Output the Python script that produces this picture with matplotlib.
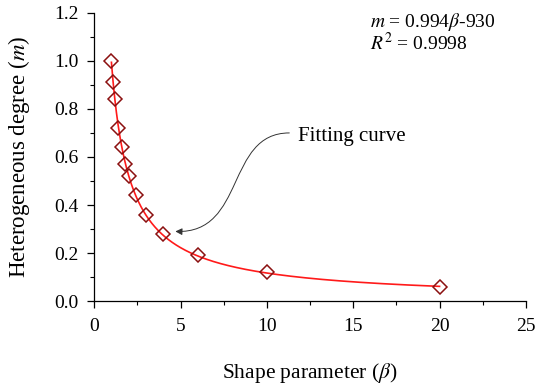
import numpy as np
import matplotlib
matplotlib.use("Agg")
import matplotlib.pyplot as plt
from matplotlib.patches import FancyArrowPatch
from matplotlib.path import Path
from matplotlib.ticker import MultipleLocator, FormatStrFormatter

plt.rcParams['font.family'] = ['Liberation Serif', 'DejaVu Serif']
plt.rcParams['mathtext.fontset'] = 'stix'

# measured points
beta = [1.0, 1.1, 1.2, 1.4, 1.6, 1.8, 2.0, 2.4, 3.0, 4.0, 6.0, 10.0, 20.0]
m = [1.00, 0.91, 0.84, 0.72, 0.64, 0.57, 0.52, 0.44, 0.36, 0.28, 0.19, 0.12, 0.06]

# fit given on the chart: m = a * beta^b
fit_a = 0.994
fit_b = -0.930

fig = plt.figure(figsize=(5.35, 3.89), dpi=100)
ax = fig.add_axes([0.176, 0.226, 0.807, 0.741])

bx = np.linspace(min(beta), max(beta), 400)
ax.plot(bx, fit_a * bx ** fit_b, color='#ff1a1a', lw=1.2, zorder=2)
ax.plot(beta, m, linestyle='none', marker='D', markersize=7,
        markerfacecolor='none', markeredgecolor='#8b1010', markeredgewidth=1.1, zorder=3)

ax.set_xlim(0, 25)
ax.set_ylim(0, 1.2)
ax.xaxis.set_major_locator(MultipleLocator(5))
ax.xaxis.set_minor_locator(MultipleLocator(2.5))
ax.yaxis.set_major_locator(MultipleLocator(0.2))
ax.yaxis.set_minor_locator(MultipleLocator(0.1))
ax.yaxis.set_major_formatter(FormatStrFormatter('%.1f'))
ax.spines['top'].set_visible(False)
ax.spines['right'].set_visible(False)
for s in ['left', 'bottom']:
    ax.spines[s].set_linewidth(0.9)
ax.tick_params(which='major', direction='out', length=5, width=0.9, labelsize=14)
ax.tick_params(which='minor', direction='out', length=3, width=0.8)
ax.tick_params(axis='x', pad=7)
ax.tick_params(axis='y', pad=6)

ax.set_xlabel(r'Shape parameter ($\beta$)', fontsize=15.5, labelpad=19)
ax.set_ylabel(r'Heterogeneous degree ($m$)', fontsize=16.5, labelpad=16)

ax.text(0.639, 0.951, r'$m$ = 0.994$\beta$-930', transform=ax.transAxes,
        fontsize=14, va='baseline', ha='left')
ax.text(0.639, 0.872, r'$R^2$ = 0.9998', transform=ax.transAxes,
        fontsize=14, va='baseline', ha='left')

ax.text(11.8, 0.668, 'Fitting curve', fontsize=15, va='baseline', ha='left')
verts = [(11.3, 0.70), (7.6, 0.70), (8.8, 0.28), (4.7, 0.29)]
codes = [Path.MOVETO, Path.CURVE4, Path.CURVE4, Path.CURVE4]
arr = FancyArrowPatch(path=Path(verts, codes), arrowstyle='-|>', mutation_scale=10,
                      color='#333333', lw=0.7)
ax.add_patch(arr)

fig.savefig('out.png', dpi=100)
